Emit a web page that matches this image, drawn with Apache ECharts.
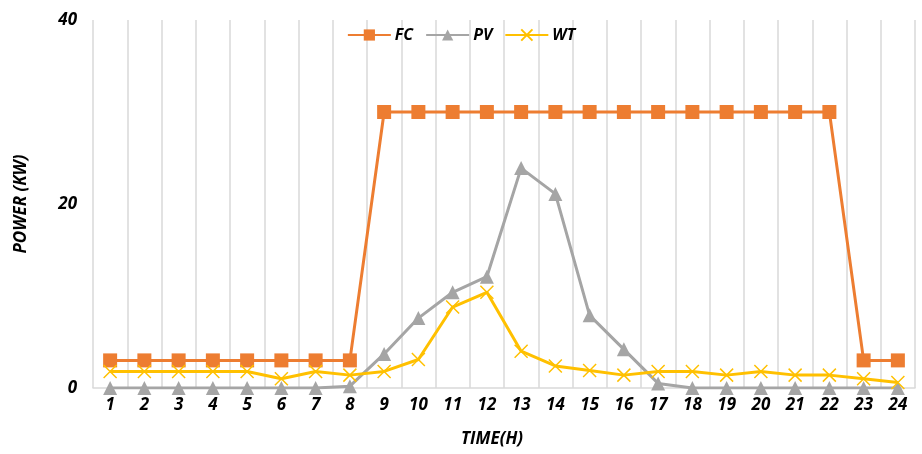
<!DOCTYPE html>
<html>
<head>
<meta charset="utf-8">
<script src="https://cdn.jsdelivr.net/npm/echarts@6/dist/echarts.min.js"></script>
<style>
  html, body { margin: 0; padding: 0; background: #fff; }
  #chart { width: 922px; height: 454px; }
</style>
</head>
<body>
<div id="chart"></div>
<script>
// Hourly power output of each source (kW)
const hours = ['1','2','3','4','5','6','7','8','9','10','11','12','13','14','15','16','17','18','19','20','21','22','23','24'];
const fcPower = [3, 3, 3, 3, 3, 3, 3, 3, 30, 30, 30, 30, 30, 30, 30, 30, 30, 30, 30, 30, 30, 30, 3, 3];
const pvPower = [0, 0, 0, 0, 0, 0, 0, 0.2, 3.7, 7.6, 10.4, 12.1, 23.9, 21.1, 7.9, 4.2, 0.5, 0, 0, 0, 0, 0, 0, 0];
const wtPower = [1.8, 1.8, 1.8, 1.8, 1.8, 1.0, 1.8, 1.4, 1.8, 3.1, 8.8, 10.4, 4.0, 2.4, 1.9, 1.4, 1.8, 1.8, 1.4, 1.8, 1.4, 1.4, 1.0, 0.6];
const yTicks = { min: 0, max: 40, step: 20 };

const FONT = '"Open Sans", "Liberation Sans", sans-serif';
const crossPath = 'path://M0,0L10,10M10,0L0,10';

const chart = echarts.init(document.getElementById('chart'), null, { renderer: 'canvas' });

chart.setOption({
  animation: false,
  backgroundColor: '#ffffff',
  grid: { left: 93, right: 7, top: 20, bottom: 66 },
  legend: {
    top: 22,
    left: 'center',
    itemWidth: 43,
    itemHeight: 14,
    itemGap: 12,
    textStyle: { fontFamily: FONT, fontSize: 16, fontWeight: 'bold', fontStyle: 'italic', color: '#000', padding: [0, 0, 0, -1] },
    data: ['FC', 'PV', 'WT']
  },
  graphic: [{
    type: 'text',
    left: 461,
    top: 431,
    style: { text: 'TIME(H)', fontFamily: FONT, fontSize: 17, fontWeight: 'bold', fontStyle: 'italic', fill: '#000' }
  }],
  xAxis: {
    type: 'category',
    data: hours,
    boundaryGap: true,
    axisLine: { show: true, lineStyle: { color: '#d9d9d9', width: 1.5 } },
    axisTick: { show: false },
    axisLabel: { interval: 0, margin: 9, fontFamily: FONT, fontSize: 17, fontWeight: 'bold', fontStyle: 'italic', color: '#000' },
    splitLine: { show: true, interval: 0, lineStyle: { color: '#d9d9d9', width: 1.5 } }
  },
  yAxis: {
    type: 'value',
    min: yTicks.min,
    max: yTicks.max,
    interval: yTicks.step,
    name: 'POWER (KW)',
    nameLocation: 'middle',
    nameGap: 63,
    nameRotate: 90,
    nameTextStyle: { fontFamily: FONT, fontSize: 17, fontWeight: 'bold', fontStyle: 'italic', color: '#000' },
    axisLine: { show: false },
    axisTick: { show: false },
    splitLine: { show: false },
    axisLabel: { margin: 16, fontFamily: FONT, fontSize: 17, fontWeight: 'bold', fontStyle: 'italic', color: '#000' }
  },
  series: [
    {
      name: 'FC',
      type: 'line',
      data: fcPower,
      symbol: 'rect',
      symbolSize: 14,
      lineStyle: { color: '#ed7d31', width: 3 },
      itemStyle: { color: '#ed7d31' },
      z: 3
    },
    {
      name: 'PV',
      type: 'line',
      data: pvPower,
      symbol: 'triangle',
      symbolSize: 14,
      lineStyle: { color: '#a5a5a5', width: 3 },
      itemStyle: { color: '#a5a5a5' },
      z: 2
    },
    {
      name: 'WT',
      type: 'line',
      data: wtPower,
      symbol: crossPath,
      symbolSize: 13,
      lineStyle: { color: '#ffc000', width: 3 },
      itemStyle: { color: 'rgba(0,0,0,0)', borderColor: '#ffc000', borderWidth: 1.5 },
      z: 4
    }
  ]
});
</script>
</body>
</html>
